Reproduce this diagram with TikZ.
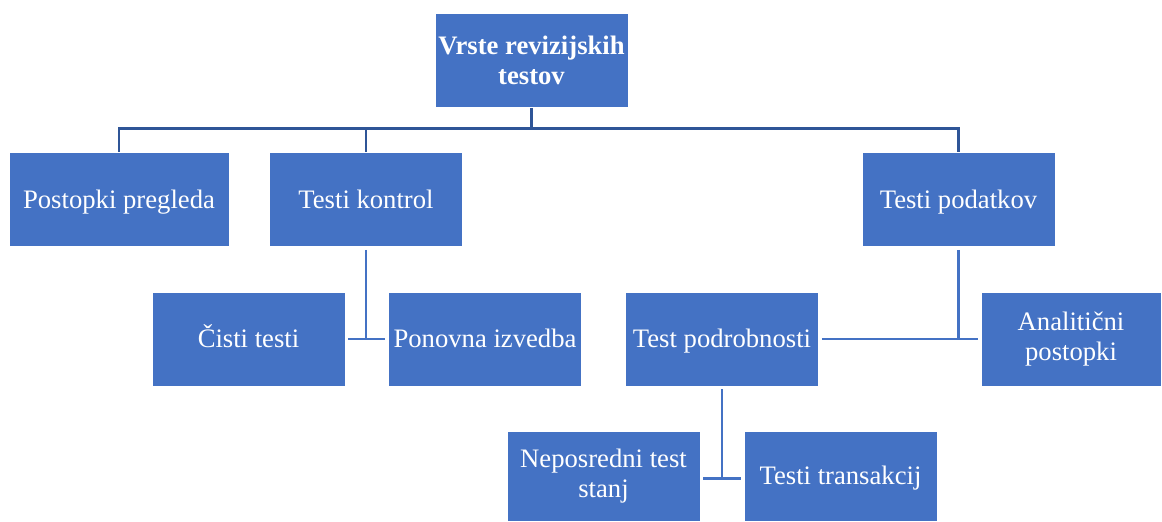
\documentclass[tikz,border=0pt]{standalone}
\usepackage{fontspec}
\setmainfont{Liberation Serif}
\definecolor{boxblue}{HTML}{4472C4}
\definecolor{trunkblue}{HTML}{2F5597}

\begin{document}
\begin{tikzpicture}[x=0.75pt, y=-0.75pt,
		box/.style = {draw = white, line width = 0.6pt, fill = boxblue, text = white,
			align = center, font = \fontsize{20}{23}\selectfont, inner sep = 2pt,
			minimum width = 144.75pt, minimum height = 70.5pt},
		oneline/.style = {box, text height = 16.5pt, text depth = 3.7pt},
		trunk/.style = {draw = trunkblue, line width = 2.2pt},
		link/.style = {draw = boxblue, line width = 1.8pt}]
			\useasboundingbox (0,0) rectangle (1162,521);

			\def\rowa{199.5};
			\def\rowb{339};
			\def\rowc{476};
			\def\gap{2.25pt};

			\node [box, font = \fontsize{20}{23}\selectfont\bfseries] (vrste) at (531.5,60.5) {Vrste revizijskih\\testov};

			\node [oneline, minimum width = 165pt] (pregled) at (119,\rowa) {Postopki pregleda};
			\node [oneline] (kontrol) at (366,\rowa) {Testi kontrol};
			\node [oneline] (podatki) at (958.5,\rowa) {Testi podatkov};

			\node [oneline] (cisti) at (248.5,\rowb) {Čisti testi};
			\node [oneline] (ponovna) at (485,\rowb) {Ponovna izvedba};
			\node [oneline] (podrobnosti) at (722,\rowb) {Test podrobnosti};
			\node [box, minimum width = 135pt] (analiticni) at (1071,\rowb) {Analitični\\postopki};

			\node [box, minimum height = 67.5pt] (neposredni) at (603.5,\rowc) {Neposredni test\\stanj};
			\node [oneline, minimum height = 67.5pt] (transakcije) at (840.5,\rowc) {Testi transakcij};

			% top level
			\draw [trunk] (vrste.south) -- ++(0,21) coordinate (bus);
			\draw [trunk] (pregled.north) |- (bus) -| (podatki.north);
			\draw [trunk] (kontrol.north) -- (kontrol.north |- bus);

			% second level
			\begin{scope}[link]
				\draw ([yshift = -\gap]kontrol.south) -- (kontrol.south |- cisti.east);
				\draw ([xshift = \gap]cisti.east) -- ([xshift = -\gap]ponovna.west);
				\draw ([yshift = -\gap]podatki.south) -- (podatki.south |- analiticni.west);
				\draw ([xshift = \gap]podrobnosti.east) -- ([xshift = -\gap]analiticni.west);
				\draw ([yshift = -\gap]podrobnosti.south) -- ++(0,89) coordinate (foot);
				\draw ([xshift = \gap]neposredni.east |- foot) -- ([xshift = -\gap]transakcije.west |- foot);
			\end{scope}
		\end{tikzpicture}
\end{document}
